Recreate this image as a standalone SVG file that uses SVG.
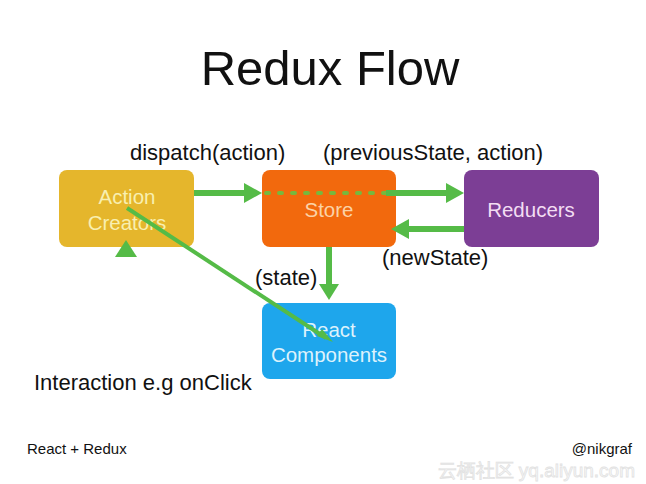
<svg xmlns="http://www.w3.org/2000/svg" width="646" height="484" viewBox="0 0 646 484">
<defs>
<style>
text{font-family:"Liberation Sans",Arial,sans-serif}
.lbl{font-size:22px;fill:#111}
.node{font-size:20.5px;text-anchor:middle}
.edge{stroke:#55BB47;stroke-width:6;fill:none}
.head{fill:#55BB47}
.foot{font-size:15px;fill:#111}
</style>
</defs>
<rect width="646" height="484" fill="#fff"/>
<text x="330" y="85" font-size="49" text-anchor="middle" fill="#111">Redux Flow</text>
<g id="action-creators">
<rect x="59" y="170" width="135" height="77" rx="8" fill="#E5B62C"/>
<text class="node" x="127" y="204" fill="#F8EFB0">Action</text>
<text class="node" x="127" y="230" fill="#F8EFB0">Creators</text>
</g>
<g id="store">
<rect x="262" y="170" width="134" height="77" rx="8" fill="#F2690D"/>
<text class="node" x="329" y="217" fill="#FBD2A6">Store</text>
</g>
<g id="reducers">
<rect x="464" y="170" width="135" height="77" rx="8" fill="#7C3E95"/>
<text class="node" x="531" y="217" fill="#F3DDF3">Reducers</text>
</g>
<g id="react-components">
<rect x="262" y="303" width="134" height="76" rx="8" fill="#1EA6EC"/>
<text class="node" x="329" y="337" fill="#DDF2FC">React</text>
<text class="node" x="329" y="362" fill="#DDF2FC">Components</text>
</g>
<g id="connectors">
<line class="edge" x1="194" y1="193" x2="246" y2="193"/>
<polygon class="head" points="244,183 262,193 244,203"/>
<line x1="266" y1="193" x2="386" y2="193" stroke="#77B83E" stroke-width="4" stroke-dasharray="3,10" stroke-linecap="round"/>
<line class="edge" x1="386" y1="193" x2="448" y2="193"/>
<polygon class="head" points="446,183 464,193 446,203"/>
<line class="edge" x1="464" y1="229" x2="406" y2="229"/>
<polygon class="head" points="409,219 391,229 409,239"/>
<line class="edge" x1="329" y1="247" x2="329" y2="286"/>
<polygon class="head" points="319,284 329,300 339,284"/>
<line x1="127" y1="208" x2="326" y2="338" stroke="#55BB47" stroke-width="4"/>
<polygon class="head" points="317,336 333,342 322,329"/>
<polygon class="head" points="126,240 137,257 115,257"/>
</g>
<text class="lbl" x="130" y="160">dispatch(action)</text>
<text class="lbl" x="323" y="160">(previousState, action)</text>
<text class="lbl" x="382" y="265">(newState)</text>
<text class="lbl" x="255" y="285">(state)</text>
<text class="lbl" x="34" y="390">Interaction e.g onClick</text>
<text class="foot" x="27" y="454">React + Redux</text>
<text class="foot" x="632" y="454" text-anchor="end">@nikgraf</text>
<text x="635" y="477" font-size="19" text-anchor="end" fill="#FAFAFA" stroke="#E2E2E2" stroke-width="0.8" font-family="'Liberation Sans','Noto Sans CJK SC',sans-serif">云栖社区 yq.aliyun.com</text>
</svg>
